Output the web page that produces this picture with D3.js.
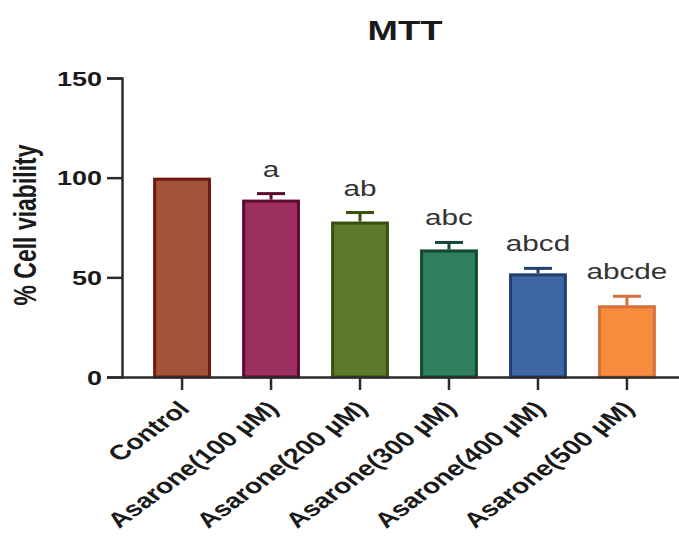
<!DOCTYPE html>
<html>
<head>
<meta charset="utf-8">
<script src="https://cdn.jsdelivr.net/npm/d3@7"></script>
<style>
  html, body { margin: 0; padding: 0; background: #fff; }
  svg { display: block; }
  text { font-family: "Liberation Sans", Arial, sans-serif; fill: #1a1a1a; }
</style>
</head>
<body>
<svg id="chart" width="679" height="536"></svg>
<script>
// MTT assay: % cell viability per treatment group
const categories = ["Control", "Asarone(100 µM)", "Asarone(200 µM)", "Asarone(300 µM)", "Asarone(400 µM)", "Asarone(500 µM)"];
const viability = [100, 89, 78, 64, 52, 36];
const errors = [0, 3, 4.5, 3.5, 2.5, 4.5];
const letters = ["", "a", "ab", "abc", "abcd", "abcde"];
const yTicks = [0, 50, 100, 150];
const fills = ["#A3533A", "#9C2F5F", "#5D7B2D", "#2F7E5D", "#3D66A3", "#F78B3E"];
const strokes = ["#6E1A0C", "#5C0A30", "#37500F", "#0F4A31", "#1F3F72", "#D4703C"];

const svg = d3.select("#chart");
const SX = 1.35; // horizontal text stretch used throughout the figure

const x = d3.scaleBand()
  .domain(categories)
  .range([122, 687])
  .paddingInner(0.35)
  .paddingOuter(0.35);

const y = d3.scaleLinear().domain([0, 150]).range([377, 78]);

// bars
svg.append("g").selectAll("rect")
  .data(categories)
  .join("rect")
  .attr("x", d => x(d) + 1.5)
  .attr("y", (d, i) => y(viability[i]) + 1.5)
  .attr("width", x.bandwidth() - 3)
  .attr("height", (d, i) => y(0) - y(viability[i]) - 1.5)
  .attr("fill", (d, i) => fills[i])
  .attr("stroke", (d, i) => strokes[i])
  .attr("stroke-width", 3);

// error bars (upper only)
const eb = svg.append("g");
categories.forEach((d, i) => {
  if (!errors[i]) return;
  const cx = x(d) + x.bandwidth() / 2;
  eb.append("line")
    .attr("x1", cx).attr("x2", cx)
    .attr("y1", y(viability[i])).attr("y2", y(viability[i] + errors[i]))
    .attr("stroke", strokes[i]).attr("stroke-width", 3);
  eb.append("line")
    .attr("x1", cx - 14).attr("x2", cx + 14)
    .attr("y1", y(viability[i] + errors[i])).attr("y2", y(viability[i] + errors[i]))
    .attr("stroke", strokes[i]).attr("stroke-width", 3);
});

// significance letters
svg.append("g").selectAll("text")
  .data(categories)
  .join("text")
  .attr("transform", (d, i) => `translate(${x(d) + x.bandwidth() / 2},${y(viability[i] + errors[i]) - 17}) scale(${SX},1)`)
  .attr("text-anchor", "middle")
  .attr("font-size", 22)
  .style("fill", "#333")
  .text((d, i) => letters[i]);

// y axis
const yAxis = svg.append("g")
  .attr("transform", "translate(122,0)")
  .call(d3.axisLeft(y).tickValues(yTicks).tickSize(15).tickPadding(5));
yAxis.select(".domain").attr("stroke", "#2b2b2b").attr("stroke-width", 2.5);
yAxis.selectAll(".tick line").attr("stroke", "#2b2b2b").attr("stroke-width", 2.5);
yAxis.selectAll(".tick text")
  .attr("x", null).attr("dy", null)
  .attr("transform", "translate(-20,7) scale(" + SX + ",1)")
  .attr("font-size", 20)
  .attr("font-weight", "bold")
  .attr("font-family", "Liberation Sans, Arial, sans-serif")
  .style("fill", "#1a1a1a");

// x axis
const xAxis = svg.append("g")
  .attr("transform", "translate(0,377)")
  .call(d3.axisBottom(x).tickSize(13).tickSizeOuter(0));
xAxis.select(".domain").attr("stroke", "#2b2b2b").attr("stroke-width", 2.5);
xAxis.selectAll(".tick line").attr("stroke", "#2b2b2b").attr("stroke-width", 2.5);
xAxis.selectAll(".tick text")
  .attr("y", null).attr("dy", null)
  .attr("text-anchor", "end")
  .attr("transform", `translate(9,33) scale(${SX},1) rotate(-45)`)
  .attr("font-size", 21)
  .attr("font-weight", "bold")
  .attr("font-family", "Liberation Sans, Arial, sans-serif")
  .style("fill", "#1a1a1a");

// y axis title
svg.append("text")
  .attr("transform", `translate(36,225) scale(${SX},1) rotate(-90)`)
  .attr("text-anchor", "middle")
  .attr("font-size", 23)
  .attr("font-weight", "bold")
  .text("% Cell viability");

// chart title
svg.append("text")
  .attr("transform", `translate(405,40) scale(${SX},1)`)
  .attr("text-anchor", "middle")
  .attr("font-size", 27)
  .attr("font-weight", "bold")
  .text("MTT");
</script>
</body>
</html>
